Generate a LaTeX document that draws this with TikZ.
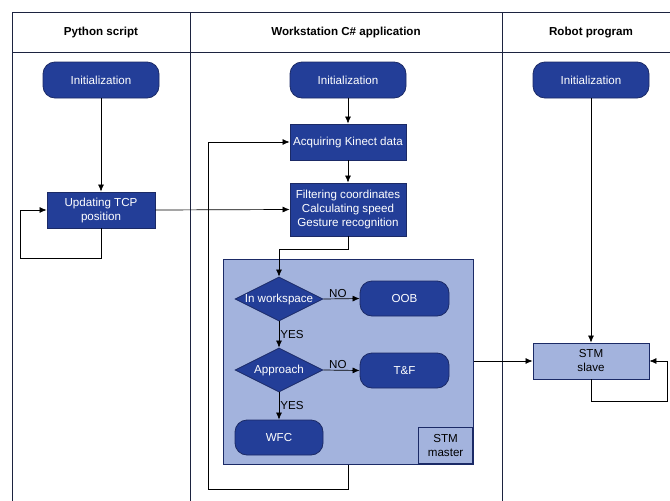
\documentclass[tikz,border=0pt]{standalone}
\usepackage{fontspec}
\setmainfont{Liberation Sans}
\usetikzlibrary{shapes.geometric,arrows.meta,calc}
\definecolor{dkblue}{HTML}{233E98}
\definecolor{dkedge}{HTML}{1B2A66}
\definecolor{ltblue}{HTML}{A3B3DD}
\definecolor{lane}{HTML}{1C2340}
\tikzset{
  txt/.style={font=\fontsize{11.6}{14}\selectfont},
  darkbox/.style={txt,draw=dkedge,fill=dkblue,text=white,line width=0.8pt,align=center,inner sep=0pt},
  roundbox/.style={darkbox,rounded corners=12pt},
  decision/.style={darkbox,diamond,minimum width=88pt,minimum height=44pt},
  lightbox/.style={txt,draw=dkedge,fill=ltblue,text=black,line width=0.8pt,align=center,inner sep=0pt},
  conn/.style={draw=black,line width=0.7pt,-{Latex[length=7pt,width=6pt]}},
  lanel/.style={draw=lane,line width=0.9pt},
  hdr/.style={font=\fontsize{11.6}{14}\selectfont\bfseries,anchor=base},
  lbl/.style={txt,inner sep=1pt}
}
\begin{document}
\begin{tikzpicture}[x=1pt,y=-1pt]
\useasboundingbox (0,0) rectangle (670,501);
% swimlanes
\draw[lanel] (12,501) -- (12,12) -- (672,12);
\draw[lanel] (12,52) -- (672,52);
\draw[lanel] (190,12) -- (190,503);
\draw[lanel] (502,12) -- (502,503);
\node[hdr] (h1) at (101,35.5) {Python script};
\node[hdr] (h2) at (346,35.5) {Workstation C\# application};
\node[hdr] (h3) at (591,35.5) {Robot program};
% STM master container
\node[lightbox,minimum width=250pt,minimum height=205pt,anchor=north west] (master) at (223,259) {};
\node[lightbox,minimum width=54pt,minimum height=36pt,anchor=south east,align=center] (masterlbl) at (473,464) {STM\\master};
% nodes
\node[roundbox,minimum width=116pt,minimum height=36pt] (initpy) at (101,80) {Initialization};
\node[roundbox,minimum width=116pt,minimum height=36pt] (initws) at (348,80) {Initialization};
\node[roundbox,minimum width=116pt,minimum height=36pt] (initrb) at (591,80) {Initialization};
\node[darkbox,minimum width=108pt,minimum height=36pt] (tcp) at (101,210) {Updating TCP\\position};
\node[darkbox,minimum width=116pt,minimum height=36pt] (kinect) at (348,142) {Acquiring Kinect data};
\node[darkbox,minimum width=116pt,minimum height=53pt] (filter) at (348,209.5) {Filtering coordinates\\Calculating speed\\Gesture recognition};
\node[decision] (inws) at (279,299) {};
\node[txt,text=white] (inwst) at (inws.center) {In workspace};
\node[roundbox,minimum width=89pt,minimum height=35pt] (oob) at (404.5,298.5) {OOB};
\node[decision] (appr) at (279,370) {};
\node[txt,text=white] (apprt) at (appr.center) {Approach};
\node[roundbox,minimum width=89pt,minimum height=35pt] (tf) at (404.5,370.5) {T\&F};
\node[roundbox,minimum width=88pt,minimum height=35pt] (wfc) at (279,437.5) {WFC};
\node[lightbox,minimum width=116pt,minimum height=36pt] (slave) at (591,361) {STM\\slave};
% coordinates for loops
\coordinate (tcpA) at (101,258);
\coordinate (tcpB) at (20,258);
\coordinate (tcpC) at (20,210);
\coordinate (fA) at (348,249);
\coordinate (fB) at (279,249);
\coordinate (mA) at (348,489);
\coordinate (mB) at (208,489);
\coordinate (mC) at (208,142);
\coordinate (sA) at (591,401);
\coordinate (sB) at (667,401);
\coordinate (sC) at (667,361);
% connectors
\draw[conn] (initpy) -- (tcp);
\draw[conn] (tcp.south) -- (tcpA) -- (tcpB) -- (tcpC) -- (tcp.west);
\draw[conn] (tcp.east) -- (filter.west);
\draw[conn] (initws) -- (kinect);
\draw[conn] (kinect) -- (filter);
\draw[conn] (filter.south) -- (fA) -- (fB) -- (inws.north);
\draw[conn] (inws.east) -- node[lbl,above,pos=0.4] (no1) {NO} (oob.west);
\draw[conn] (inws.south) -- node[lbl,right,pos=0.5] (yes1) {YES} (appr.north);
\draw[conn] (appr.east) -- node[lbl,above,pos=0.4] (no2) {NO} (tf.west);
\draw[conn] (appr.south) -- node[lbl,right,pos=0.5] (yes2) {YES} (wfc.north);
\draw[conn] (master.south -| mA) -- (mA) -- (mB) -- (mC) -- (kinect.west);
\draw[conn] (master.east |- slave.west) -- (slave.west);
\draw[conn] (initrb) -- (slave);
\draw[conn] (slave.south) -- (sA) -- (sB) -- (sC) -- (slave.east);
\end{tikzpicture}
\end{document}
